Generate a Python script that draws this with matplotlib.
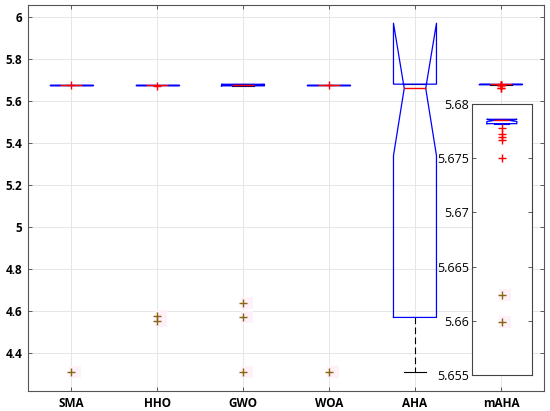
import matplotlib
matplotlib.use("Agg")
import matplotlib.pyplot as plt

methods = ["SMA", "HHO", "GWO", "WOA", "AHA", "mAHA"]
q1 = [5.6777, 5.6777, 5.6720, 5.6777, 4.57, 5.6782]
med = [5.6777, 5.6777, 5.6765, 5.6777, 5.66, 5.6785]
q3 = [5.6777, 5.6777, 5.6795, 5.6777, 5.68, 5.6786]
whislo = [5.6777, 5.6777, 5.6720, 5.6777, 4.31, 5.6782]
whishi = [5.6777, 5.6777, 5.6795, 5.6777, 5.68, 5.6786]
cilo = [5.6777, 5.6777, 5.6745, 5.6777, 5.34, 5.6784]
cihi = [5.6777, 5.6777, 5.6785, 5.6777, 5.97, 5.6786]
near_outliers = [[5.675], [5.669], [], [5.677],  [], [5.6778, 5.6772, 5.6770, 5.6767, 5.6750]]
far_outliers = [[4.31], [4.575, 4.555], [4.64, 4.57, 4.31], [4.31], [], [5.6624, 5.6599]]
yticks_main = [4.4, 4.6, 4.8, 5.0, 5.2, 5.4, 5.6, 5.8, 6.0]
ytick_labels_main = ["4.4", "4.6", "4.8", "5", "5.2", "5.4", "5.6", "5.8", "6"]
yticks_inset = [5.655, 5.66, 5.665, 5.67, 5.675, 5.68]

BLUE = "#0000ff"
RED = "#ff0000"
BROWN = "#8a6410"
HALO = "#fef1f9"

plt.rcParams["font.family"] = ["Open Sans", "DejaVu Sans"]
fig = plt.figure(figsize=(5.5, 4.11), dpi=100)
ax = fig.add_axes([0.051, 0.0487, 0.938, 0.9393])

positions = list(range(1, len(methods) + 1))
stats = []
for i in range(len(methods)):
    stats.append(dict(med=med[i], q1=q1[i], q3=q3[i], whislo=whislo[i], whishi=whishi[i],
                      cilo=cilo[i], cihi=cihi[i], fliers=[], label=methods[i]))

def draw_boxes(a, st, pos, linecolor="black"):
    a.bxp(st, positions=pos, widths=0.5, shownotches=True, showfliers=False,
          boxprops=dict(color=BLUE, linewidth=0.9, zorder=3),
          medianprops=dict(color=RED, linewidth=1.0, zorder=4),
          whiskerprops=dict(color=linecolor, linewidth=0.8, linestyle=(0, (6, 3)), zorder=2),
          capprops=dict(color=linecolor, linewidth=0.8, zorder=2),
          manage_ticks=False)

draw_boxes(ax, stats, positions)

for i, p in enumerate(positions):
    if near_outliers[i]:
        ax.plot([p] * len(near_outliers[i]), near_outliers[i], linestyle="none", marker="+",
                color=RED, markersize=6, markeredgewidth=1.0, zorder=5)
    if far_outliers[i]:
        col = RED if methods[i] == "mAHA" else BROWN
        if methods[i] != "mAHA":
            ax.plot([p + 0.05] * len(far_outliers[i]), far_outliers[i], linestyle="none", marker="s",
                    color=HALO, markersize=9, markeredgewidth=0, zorder=1)
        ax.plot([p] * len(far_outliers[i]), far_outliers[i], linestyle="none", marker="+",
                color=col, markersize=6, markeredgewidth=1.0, zorder=5)

ax.set_xlim(0.5, 6.5)
ax.set_ylim(4.22, 6.057)
ax.set_xticks(positions)
ax.set_xticklabels(methods, fontweight="bold", fontsize=8.5)
ax.set_yticks(yticks_main)
ax.set_yticklabels(ytick_labels_main, fontweight="bold", fontsize=8.5)
ax.grid(True, color="#e6e6e6", linewidth=0.7)
ax.set_axisbelow(True)
ax.tick_params(direction="in", top=True, right=True, length=3, width=0.6, color="#444444", pad=4)
ax.tick_params(axis="y", labelright=False)
for s in ax.spines.values():
    s.set_color("#555555")
    s.set_linewidth(0.8)

# inset
ins = fig.add_axes([0.858, 0.0876, 0.109, 0.659])
ins.set_facecolor("white")
draw_boxes(ins, [stats[5]], [6], linecolor=BLUE)
ins.plot([6] * len(near_outliers[5]), near_outliers[5], linestyle="none", marker="+",
         color=RED, markersize=6, markeredgewidth=1.0, zorder=5)
ins.plot([6.05] * len(far_outliers[5]), far_outliers[5], linestyle="none", marker="s",
         color=HALO, markersize=9, markeredgewidth=0, zorder=1)
ins.plot([6] * len(far_outliers[5]), far_outliers[5], linestyle="none", marker="+",
         color=BROWN, markersize=6, markeredgewidth=1.0, zorder=5)
ins.set_xlim(5.5, 6.5)
ins.set_ylim(5.655, 5.68)
ins.set_xticks([])
ins.set_yticks(yticks_inset)
ins.set_yticklabels([f"{v:g}" for v in yticks_inset], fontsize=9)
ins.tick_params(direction="in", left=True, right=True, length=3, width=0.6, color="#444444", pad=2)
for s in ins.spines.values():
    s.set_color("#444444")
    s.set_linewidth(0.8)

fig.savefig("out.png", dpi=100)
